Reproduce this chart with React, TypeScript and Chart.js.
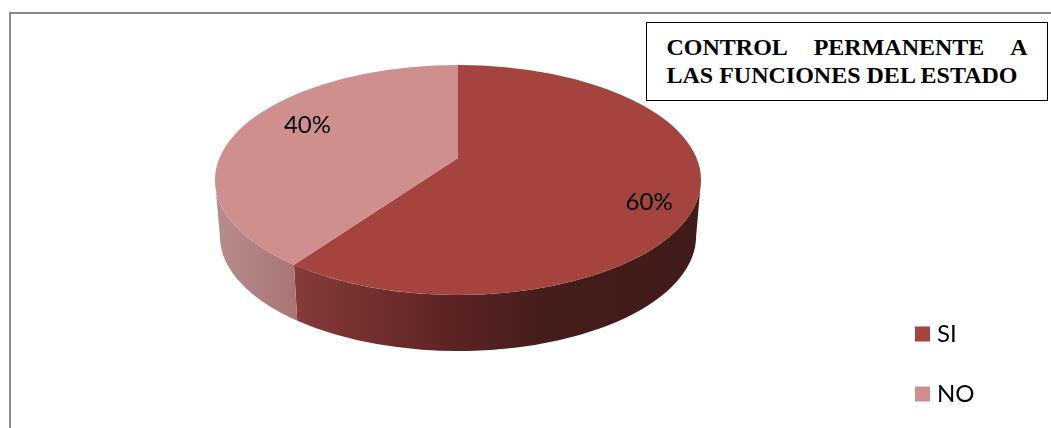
import React, { useEffect, useRef } from "react";
import { Chart, registerables } from "chart.js";

Chart.register(...registerables);

const categories = ["SI", "NO"];
const shares = [60, 40];
const shareLabels = ["60%", "40%"];
const sliceColors = ["#A5443F", "#CF8F8E"];
const titleLines = ["CONTROL PERMANENTE A", "LAS FUNCIONES DEL ESTADO"];

// Where each percentage sits on the pie top: clockwise degrees from 12 o'clock, share of the radius.
const labelAngles = [103, 308];
const labelRadii = [0.807, 0.786];

const DEPTH = 56;
const BOTTOM_RX = 0.98;
// In perspective the pie's centre sits above the middle of the visible ellipse.
const APEX_SHIFT = 22;
const OVERSCAN = 1.25;

const sideStops = [
  [[0, "#873A3A"], [0.2, "#712E2E"], [0.4, "#5B2322"], [0.62, "#451D1B"], [1, "#411B19"]],
  [[0, "#B58C8B"], [1, "#A97574"]],
];
const sideRanges = [[298, 696], [220, 296]];

const pie3d = {
  id: "pie3d",
  beforeDatasetsDraw(chart: any) {
    const { ctx, chartArea } = chart;
    const arcs = chart.getDatasetMeta(0).data;
    const rx = chartArea.width / 2;
    const ry = chartArea.height / 2;
    const off = APEX_SHIFT / ry;
    // Angle on the rim reached by a ray leaving the shifted apex at angle th.
    const rim = (th: number) => {
      const s = Math.sin(th);
      const c = Math.cos(th);
      const t = s * off + Math.sqrt(s * s * off * off - off * off + 1);
      const phi = Math.atan2(t * s - off, t * c);
      return phi < -Math.PI / 2 ? phi + 2 * Math.PI : phi;
    };
    arcs.forEach((el: any, i: number) => {
      const a = Math.max(rim(el.startAngle), 0);
      const b = Math.min(rim(el.endAngle), Math.PI);
      if (b <= a) return;
      const g = ctx.createLinearGradient(sideRanges[i][0], 0, sideRanges[i][1], 0);
      sideStops[i].forEach((s: any) => g.addColorStop(s[0], s[1]));
      ctx.beginPath();
      ctx.ellipse(el.x, el.y, rx, ry, 0, a, b);
      ctx.ellipse(el.x, el.y + DEPTH, rx * BOTTOM_RX, ry, 0, b, a, true);
      ctx.closePath();
      ctx.fillStyle = g;
      ctx.fill();
    });
    const c = arcs[0];
    ctx.save();
    ctx.beginPath();
    ctx.ellipse(c.x, c.y, rx, ry, 0, 0, Math.PI * 2);
    ctx.clip();
    ctx.translate(c.x, c.y - APEX_SHIFT);
    ctx.scale((rx / ry) * OVERSCAN, OVERSCAN);
    ctx.translate(-c.x, -c.y);
  },
  afterDatasetsDraw(chart: any) {
    const { ctx, chartArea } = chart;
    ctx.restore();
    const c = chart.getDatasetMeta(0).data[0];
    ctx.save();
    ctx.fillStyle = "#000";
    ctx.font = "24px Lato";
    ctx.textAlign = "center";
    ctx.textBaseline = "middle";
    shareLabels.forEach((t, i) => {
      const ang = (labelAngles[i] * Math.PI) / 180;
      ctx.fillText(
        t,
        c.x + (Math.sin(ang) * labelRadii[i] * chartArea.width) / 2,
        c.y - (Math.cos(ang) * labelRadii[i] * chartArea.height) / 2 + 1
      );
    });
    ctx.restore();
  },
  afterLayout(chart: any) {
    const l = chart.legend;
    const w = l.right - l.left;
    const h = l.bottom - l.top;
    l.left = 884;
    l.right = 884 + w;
    l.top = 286;
    l.bottom = 286 + h;
  },
};

export default function App() {
  const ref = useRef<HTMLCanvasElement>(null);
  useEffect(() => {
    document.body.style.margin = "0";
    const chart = new Chart(ref.current as HTMLCanvasElement, {
      type: "pie",
      data: {
        labels: categories,
        datasets: [
          {
            data: shares,
            backgroundColor: sliceColors,
            borderWidth: 0,
            clip: false,
          } as any,
        ],
      },
      options: {
        responsive: false,
        animation: false,
        layout: { padding: { left: 215, right: 350, top: 65, bottom: 133 } },
        plugins: {
          tooltip: { enabled: false },
          title: { display: false },
          legend: {
            display: true,
            position: "chartArea",
            align: "start",
            labels: {
              boxWidth: 5,
              boxHeight: 5,
              padding: 36,
              color: "#000",
              font: { family: "Lato", size: 24 },
              generateLabels: (c: any) =>
                Chart.overrides.pie.plugins.legend.labels
                  .generateLabels(c)
                  .map((it: any) => ({ ...it, lineWidth: 10, strokeStyle: it.fillStyle })),
            },
          },
        },
      } as any,
      plugins: [pie3d],
    });
    return () => chart.destroy();
  }, []);

  return (
    <div style={{ position: "absolute", left: 0, top: 0, width: 1051, height: 428, overflow: "hidden", background: "#fff" }}>
      <canvas ref={ref} width={1051} height={428} style={{ position: "absolute", left: 0, top: 0, display: "block" }} />
      <div style={{ position: "absolute", left: 9, top: 12, width: 1100, height: 500, borderLeft: "2px solid #8C8C8C", borderTop: "2px solid #8C8C8C" }} />
      <div
        style={{
          position: "absolute",
          left: 646,
          top: 22,
          width: 400,
          height: 77,
          border: "1.5px solid #000",
          background: "#fff",
          fontFamily: "'Liberation Serif'",
          fontWeight: "bold",
          fontSize: 24,
          lineHeight: "28px",
          color: "#000",
        }}
      >
        <div style={{ position: "absolute", left: 19.5, top: 10, width: 361, textAlignLast: "justify" }}>{titleLines[0]}</div>
        <div style={{ position: "absolute", left: 19.5, top: 38, whiteSpace: "nowrap" }}>{titleLines[1]}</div>
      </div>
    </div>
  );
}
